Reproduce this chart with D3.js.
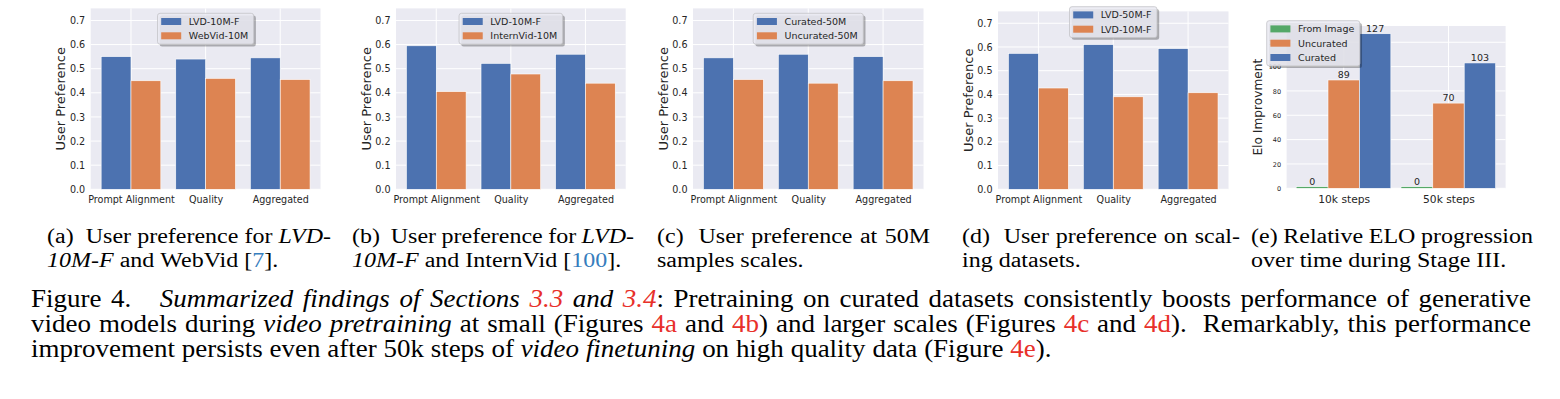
<!DOCTYPE html>
<html>
<head>
<meta charset="utf-8">
<script src="https://cdn.jsdelivr.net/npm/d3@7"></script>
<style>
  body { margin: 0; background: #fff; }
  #fig text { font-family: "DejaVu Sans", sans-serif; }
  #fig .cap text { font-family: "Liberation Serif", "Times New Roman", serif; }
</style>
</head>
<body>
<svg id="fig" width="1560" height="399"></svg>
<script>
// ---- data ----
const prefCategories = ["Prompt Alignment", "Quality", "Aggregated"];
const prefTicks = [0, 0.1, 0.2, 0.3, 0.4, 0.5, 0.6, 0.7];

const aSeries = ["LVD-10M-F", "WebVid-10M"];
const aFirst = [0.55, 0.54, 0.545];
const aSecond = [0.45, 0.46, 0.455];

const bSeries = ["LVD-10M-F", "InternVid-10M"];
const bFirst = [0.595, 0.522, 0.56];
const bSecond = [0.405, 0.478, 0.44];

const cSeries = ["Curated-50M", "Uncurated-50M"];
const cFirst = [0.545, 0.56, 0.55];
const cSecond = [0.455, 0.44, 0.45];

const dSeries = ["LVD-50M-F", "LVD-10M-F"];
const dFirst = [0.573, 0.61, 0.593];
const dSecond = [0.427, 0.39, 0.407];

const eloGroups = ["10k steps", "50k steps"];
const eloSeries = ["From Image", "Uncurated", "Curated"];
const eloFromImage = [0, 0];
const eloUncurated = [89, 70];
const eloCurated = [127, 103];
const eloTicks = [0, 20, 40, 60, 80, 100, 120];

// captions: *italic*  ^red ref^  ~blue cite~
const subCaptions = [
  ["(a)  User preference for *LVD-*", "*10M-F* and WebVid [~7~]."],
  ["(b)  User preference for *LVD-*", "*10M-F* and InternVid [~100~]."],
  ["(c)  User preference at 50M", "samples scales."],
  ["(d)  User preference on scal-", "ing datasets."],
  ["(e) Relative ELO progression", "over time during Stage III."],
];
const mainCaption = [
  "Figure 4.   *Summarized findings of Sections ^3.3^ and ^3.4^*: Pretraining on curated datasets consistently boosts performance of generative",
  "video models during *video pretraining* at small (Figures ^4a^ and ^4b^) and larger scales (Figures ^4c^ and ^4d^).  Remarkably, this performance",
  "improvement persists even after 50k steps of *video finetuning* on high quality data (Figure ^4e^).",
];

// ---- style ----
const blue = "#4C72B0", orange = "#DD8452", green = "#55A868";
const panelBg = "#EAEAF2", ink = "#262626";
const red = "#e8302a", citeBlue = "#367dbd";

const svg = d3.select("#fig");

function legend(parent, left, top, names, colors) {
  const g = parent.append("g");
  const shadow = g.append("rect");
  const box = g.append("rect");
  const rows = names.map((n, i) => top + 8.2 + i * 14.3);
  const labels = g.selectAll("text.leg").data(names).join("text")
    .attr("class", "leg")
    .attr("font-size", 9.5)
    .attr("fill", ink)
    .attr("y", (d, i) => rows[i] + 3.4)
    .text(d => d);
  const tw = d3.max(labels.nodes(), n => n.getComputedTextLength());
  const w = 31.3 + tw + 5.5;
  const h = 16.6 + (names.length - 1) * 14.3;
  if (left === null) left = parent.attr("data-cx") - w / 2;
  labels.attr("x", left + 31.3);
  shadow.attr("x", left + 2.2).attr("y", top + 2.2).attr("width", w).attr("height", h)
    .attr("rx", 2.5).attr("fill", "#000").attr("fill-opacity", 0.28);
  box.attr("x", left).attr("y", top).attr("width", w).attr("height", h)
    .attr("rx", 2.5).attr("fill", panelBg).attr("fill-opacity", 0.85)
    .attr("stroke", "#c4c4c8").attr("stroke-width", 0.8);
  g.selectAll("rect.patch").data(colors).join("rect")
    .attr("class", "patch")
    .attr("x", left + 3.7).attr("y", (d, i) => rows[i] - 3.5)
    .attr("width", 20).attr("height", 7)
    .attr("fill", d => d);
}

function styleAxis(sel, size) {
  sel.select(".domain").remove();
  sel.attr("font-family", null).attr("font-size", null);
  sel.selectAll("text").attr("font-size", size).attr("fill", ink);
}

function prefPanel(box, names, first, second) {
  const g = svg.append("g").attr("data-cx", (box.left + box.right) / 2);
  const x = d3.scaleLinear().domain([-0.54, 2.54]).range([box.left, box.right]);
  const y = d3.scaleLinear().domain([0, 0.75]).range([box.bottom, box.top]);

  g.append("rect")
    .attr("x", box.left).attr("y", box.top)
    .attr("width", box.right - box.left).attr("height", box.bottom - box.top)
    .attr("fill", panelBg);

  g.selectAll("line.hg").data(prefTicks).join("line")
    .attr("x1", box.left).attr("x2", box.right)
    .attr("y1", d => y(d)).attr("y2", d => y(d))
    .attr("stroke", "#fff").attr("stroke-width", 1);
  g.selectAll("line.vg").data(prefCategories).join("line")
    .attr("x1", (d, i) => x(i)).attr("x2", (d, i) => x(i))
    .attr("y1", box.top).attr("y2", box.bottom)
    .attr("stroke", "#fff").attr("stroke-width", 1);

  const bars = prefCategories.flatMap((c, i) => [
    { i, v: first[i], off: -0.4, color: blue },
    { i, v: second[i], off: 0, color: orange },
  ]);
  g.selectAll("rect.bar").data(bars).join("rect")
    .attr("x", d => x(d.i + d.off))
    .attr("width", d => x(d.i + d.off + 0.4) - x(d.i + d.off))
    .attr("y", d => y(d.v))
    .attr("height", d => y(0) - y(d.v))
    .attr("fill", d => d.color)
    .attr("stroke", "#fff").attr("stroke-width", 0.6);

  g.append("g")
    .attr("transform", `translate(${box.left},0)`)
    .call(d3.axisLeft(y).tickValues(prefTicks).tickFormat(d3.format(".1f")).tickSize(0).tickPadding(5.5))
    .call(a => styleAxis(a, 9.6));

  g.append("g")
    .attr("transform", `translate(0,${box.bottom})`)
    .call(d3.axisBottom(x).tickValues([0, 1, 2]).tickFormat(i => prefCategories[i]).tickSize(0))
    .call(a => styleAxis(a, 9.6))
    .selectAll("text").attr("y", 14).attr("dy", null);

  g.append("text")
    .attr("transform", `translate(${box.left - 25.3},${(box.top + box.bottom) / 2}) rotate(-90)`)
    .attr("text-anchor", "middle")
    .attr("font-size", 13)
    .attr("fill", ink)
    .text("User Preference");

  legend(g, null, box.legTop, names, [blue, orange]);
}

function eloPanel(box) {
  const g = svg.append("g");
  const x = d3.scaleLinear().domain([-0.545, 1.545]).range([box.left, box.right]);
  const y = d3.scaleLinear().domain([0, 133.35]).range([box.bottom, box.top]);

  g.append("rect")
    .attr("x", box.left).attr("y", box.top)
    .attr("width", box.right - box.left).attr("height", box.bottom - box.top)
    .attr("fill", panelBg);
  g.selectAll("line.hg").data(eloTicks).join("line")
    .attr("x1", box.left).attr("x2", box.right)
    .attr("y1", d => y(d)).attr("y2", d => y(d))
    .attr("stroke", "#fff").attr("stroke-width", 1);
  g.selectAll("line.vg").data(eloGroups).join("line")
    .attr("x1", (d, i) => x(i)).attr("x2", (d, i) => x(i))
    .attr("y1", box.top).attr("y2", box.bottom)
    .attr("stroke", "#fff").attr("stroke-width", 1);

  const series = [eloFromImage, eloUncurated, eloCurated];
  const colors = [green, orange, blue];
  const bars = eloGroups.flatMap((grp, i) => series.map((s, k) => ({
    i, v: s[i], off: -0.45 + k * 0.3, color: colors[k],
  })));
  // zero-valued bars keep a thin sliver like the original
  const top = d => Math.min(y(d.v), y(0) - 1.6);
  g.selectAll("rect.bar").data(bars).join("rect")
    .attr("x", d => x(d.i + d.off))
    .attr("width", d => x(d.i + d.off + 0.3) - x(d.i + d.off))
    .attr("y", top)
    .attr("height", d => y(0) - top(d))
    .attr("fill", d => d.color)
    .attr("stroke", "#fff").attr("stroke-width", 0.6);
  g.selectAll("text.val").data(bars).join("text")
    .attr("x", d => x(d.i + d.off + 0.15))
    .attr("y", d => top(d) - 2.2)
    .attr("text-anchor", "middle")
    .attr("font-size", 9.5)
    .attr("fill", ink)
    .text(d => d3.format("d")(d.v));

  g.append("g")
    .attr("transform", `translate(${box.left},0)`)
    .call(d3.axisLeft(y).tickValues(eloTicks).tickSize(0).tickPadding(5.5))
    .call(a => styleAxis(a, 6.5));
  g.append("g")
    .attr("transform", `translate(0,${box.bottom})`)
    .call(d3.axisBottom(x).tickValues([0, 1]).tickFormat(i => eloGroups[i]).tickSize(0))
    .call(a => styleAxis(a, 10.7))
    .selectAll("text").attr("y", 15.2).attr("dy", null);

  g.append("text")
    .attr("transform", `translate(${box.left - 24.2},${(box.top + box.bottom) / 2}) rotate(-90)`)
    .attr("text-anchor", "middle")
    .attr("font-size", 12.2)
    .attr("fill", ink)
    .text("Elo Improvment");

  legend(g, box.legLeft, box.legTop, eloSeries, colors);
}

prefPanel({ left: 90.7, right: 320.5, top: 8.4, bottom: 189.3, legTop: 13.3 }, aSeries, aFirst, aSecond);
prefPanel({ left: 396, right: 625.7, top: 8.4, bottom: 189.3, legTop: 13.3 }, bSeries, bFirst, bSecond);
prefPanel({ left: 693, right: 923.5, top: 8.4, bottom: 189.3, legTop: 13.3 }, cSeries, cFirst, cSecond);
prefPanel({ left: 998, right: 1228.5, top: 11.4, bottom: 189.3, legTop: 6.7 }, dSeries, dFirst, dSecond);
eloPanel({ left: 1286.6, right: 1505.6, top: 26, bottom: 188.3, legLeft: 1266.7, legTop: 20.7 });

// ---- captions ----
function parseMarked(str) {
  const words = [];
  let it = false, col = null, cur = null, gap = 0;
  for (const ch of str) {
    if (ch === "*") { it = !it; continue; }
    if (ch === "^") { col = col ? null : red; continue; }
    if (ch === "~") { col = col ? null : citeBlue; continue; }
    if (ch === " ") { cur = null; gap++; continue; }
    if (!cur) { cur = { gap, segs: [] }; words.push(cur); gap = 0; }
    const last = cur.segs[cur.segs.length - 1];
    if (last && last.it === it && last.col === col) last.t += ch;
    else cur.segs.push({ t: ch, it, col });
  }
  return words;
}

// glyphs in the scan are a little flatter than the font at this width
const capSquash = 0.9;
const cap = svg.append("g").attr("class", "cap");

function captionLine(str, fs, left, right, baseline, justify) {
  const words = parseMarked(str);
  const nodes = words.map(w => {
    const t = cap.append("text")
      .attr("font-size", fs)
      .attr("fill", "#000");
    w.segs.forEach(s => t.append("tspan")
      .attr("font-style", s.it ? "italic" : null)
      .attr("fill", s.col || null)
      .text(s.t));
    return t;
  });
  const widths = nodes.map(t => t.node().getComputedTextLength());
  const spaces = d3.sum(words.slice(1), w => w.gap);
  const gap = justify ? (right - left - d3.sum(widths)) / spaces : fs * 0.25;
  let cx = left;
  nodes.forEach((t, i) => {
    if (i > 0) cx += words[i].gap * gap;
    t.attr("transform", `translate(${cx},${baseline}) scale(1,${capSquash})`);
    cx += widths[i];
  });
}

const subFont = 24, mainFont = 27;
const subLeft = [47, 352, 657, 962, 1251];
const subRight = [331, 634, 930, 1240, 1533];
subCaptions.forEach((lines, k) => {
  captionLine(lines[0], subFont, subLeft[k], subRight[k], 243, true);
  captionLine(lines[1], subFont, subLeft[k], subRight[k], 267, false);
});
mainCaption.forEach((line, k) => {
  captionLine(line, mainFont, 31, 1531, 307 + k * 25, k < mainCaption.length - 1);
});
</script>
</body>
</html>
